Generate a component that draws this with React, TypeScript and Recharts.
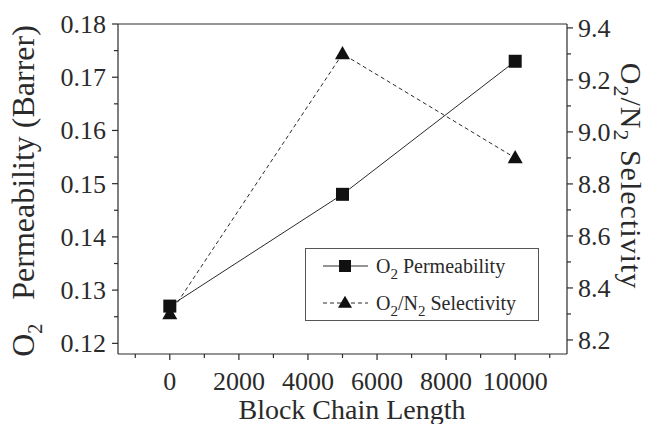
import React from "react";
import { Line, LineChart, ReferenceLine, XAxis, YAxis } from "recharts";

const blockLengths = [0, 5000, 10000];
const permeability = [0.127, 0.148, 0.173];
const selectivity = [8.3, 9.3, 8.9];

const xMajor = [0, 2000, 4000, 6000, 8000, 10000];
const xMinor = [-1000, 1000, 3000, 5000, 7000, 9000, 11000];
const leftMajor = [0.12, 0.13, 0.14, 0.15, 0.16, 0.17, 0.18];
const leftMinor = [0.125, 0.135, 0.145, 0.155, 0.165, 0.175];
const rightMajor = [8.2, 8.4, 8.6, 8.8, 9.0, 9.2, 9.4];
const rightMinor = [8.3, 8.5, 8.7, 8.9, 9.1, 9.3];

const data = blockLengths.map((x, i) => ({ x, perm: permeability[i], sel: selectivity[i] }));

const INK = "#2a2a2a";
const FONT = "'Liberation Serif', 'DejaVu Serif', serif";
const isMajor = (list: number[], v: number) => list.some((m) => Math.abs(m - v) < 1e-9);
const sorted = (a: number[], b: number[]) => [...a, ...b].sort((p, q) => p - q);

function XTick({ x, y, payload }: any) {
  const major = isMajor(xMajor, payload.value);
  return (
    <g>
      <line x1={x} x2={x} y1={y} y2={y + (major ? 6 : 4)} stroke={INK} strokeWidth={1.2} />
      {major && (
        <text x={x} y={y + 36} textAnchor="middle" fontSize={26} fill={INK} fontFamily={FONT}>
          {payload.value}
        </text>
      )}
    </g>
  );
}

function LeftTick({ x, y, payload }: any) {
  const major = isMajor(leftMajor, payload.value);
  return (
    <g>
      <line x1={x} x2={x - (major ? 6 : 4)} y1={y} y2={y} stroke={INK} strokeWidth={1.2} />
      {major && (
        <text x={x - 12} y={y + 9} textAnchor="end" fontSize={26} fill={INK} fontFamily={FONT}>
          {payload.value.toFixed(2)}
        </text>
      )}
    </g>
  );
}

function RightTick({ x, y, payload }: any) {
  const major = isMajor(rightMajor, payload.value);
  return (
    <g>
      <line x1={x} x2={x + (major ? 6 : 4)} y1={y} y2={y} stroke={INK} strokeWidth={1.2} />
      {major && (
        <text x={x + 11} y={y + 9} textAnchor="start" fontSize={26} fill={INK} fontFamily={FONT}>
          {payload.value.toFixed(1)}
        </text>
      )}
    </g>
  );
}

function Square({ cx, cy, size = 13 }: any) {
  if (cx == null || cy == null) return null;
  return <rect x={cx - size / 2} y={cy - size / 2} width={size} height={size} fill="#111" />;
}

function Triangle({ cx, cy, size = 15 }: any) {
  if (cx == null || cy == null) return null;
  const h = size * 0.87;
  return (
    <path
      d={`M${cx},${cy - h * 0.6} L${cx + size / 2},${cy + h * 0.4} L${cx - size / 2},${cy + h * 0.4} Z`}
      fill="#111"
    />
  );
}

function LegendBox() {
  return (
    <svg width={234} height={73} style={{ display: "block" }}>
      <rect x={0.5} y={0.5} width={233} height={72} fill="#fff" stroke="#555" strokeWidth={1} />
      <line x1={18} x2={63} y1={18} y2={18} stroke={INK} strokeWidth={1} />
      <Square cx={40} cy={18} size={12} />
      <text x={71} y={25} fontSize={20} fill={INK} fontFamily={FONT}>
        O<tspan dy={6} fontSize={15}>2</tspan>
        <tspan dy={-6}> Permeability</tspan>
      </text>
      <line x1={18} x2={63} y1={55} y2={55} stroke={INK} strokeWidth={1} strokeDasharray="4 3" />
      <Triangle cx={40} cy={55} size={14} />
      <text x={71} y={62} fontSize={20} fill={INK} fontFamily={FONT}>
        O<tspan dy={6} fontSize={15}>2</tspan>
        <tspan dy={-6}>/N</tspan>
        <tspan dy={6} fontSize={15}>2</tspan>
        <tspan dy={-6}> Selectivity</tspan>
      </text>
    </svg>
  );
}

export default function App() {
  return (
    <div style={{ position: "absolute", left: 0, top: 0, width: 650, height: 424, background: "#fff" }}>
      <LineChart width={650} height={424} data={data} margin={{ top: 24, right: 0, bottom: 0, left: 0 }}>
        <XAxis
          dataKey="x"
          type="number"
          domain={[-1500, 11500]}
          ticks={sorted(xMajor, xMinor)}
          interval={0}
          allowDataOverflow
          height={70}
          tickSize={0}
          tickMargin={0}
          tickLine={false}
          axisLine={{ stroke: INK, strokeWidth: 1.2 }}
          tick={(p: any) => <XTick {...p} />}
          label={{
            content: () => (
              <text x={352} y={419} textAnchor="middle" fontSize={28} fill={INK} fontFamily={FONT}>
                Block Chain Length
              </text>
            ),
          }}
        />
        <YAxis
          yAxisId="left"
          type="number"
          domain={[0.118, 0.18]}
          ticks={sorted(leftMajor, leftMinor)}
          interval={0}
          allowDataOverflow
          width={118}
          tickSize={0}
          tickMargin={0}
          tickLine={false}
          axisLine={{ stroke: INK, strokeWidth: 1.2 }}
          tick={(p: any) => <LeftTick {...p} />}
          label={{
            content: () => (
              <text transform="translate(34,191) rotate(-90)" textAnchor="middle" fontSize={32} fill={INK} fontFamily={FONT}>
                O<tspan dy={8} fontSize={20}>2</tspan>
                <tspan dy={-8}>{"\u00a0\u00a0\u00a0Permeability (Barrer)"}</tspan>
              </text>
            ),
          }}
        />
        <YAxis
          yAxisId="right"
          orientation="right"
          type="number"
          domain={[8.146, 9.415]}
          ticks={sorted(rightMajor, rightMinor)}
          interval={0}
          allowDataOverflow
          width={83}
          tickSize={0}
          tickMargin={0}
          tickLine={false}
          axisLine={{ stroke: INK, strokeWidth: 1.2 }}
          tick={(p: any) => <RightTick {...p} />}
          label={{
            content: () => (
              <text
                transform="translate(621,176) rotate(90)"
                textAnchor="middle"
                fontSize={30}
                letterSpacing={1}
                fill={INK}
                fontFamily={FONT}
              >
                O<tspan dy={7} fontSize={22}>2</tspan>
                <tspan dy={-7}>/N</tspan>
                <tspan dy={7} fontSize={22}>2</tspan>
                <tspan dy={-7}> Selectivity</tspan>
              </text>
            ),
          }}
        />
        <ReferenceLine yAxisId="left" y={0.18} stroke={INK} strokeWidth={1.2} />
        <Line
          yAxisId="left"
          dataKey="perm"
          stroke={INK}
          strokeWidth={1}
          dot={(p: any) => <Square key={`s${p.index}`} {...p} />}
          activeDot={false}
          isAnimationActive={false}
        />
        <Line
          yAxisId="right"
          dataKey="sel"
          stroke={INK}
          strokeWidth={1}
          strokeDasharray="4 3"
          dot={(p: any) => <Triangle key={`t${p.index}`} {...p} />}
          activeDot={false}
          isAnimationActive={false}
        />
      </LineChart>
      <div style={{ position: "absolute", left: 305, top: 248 }}>
        <LegendBox />
      </div>
    </div>
  );
}
